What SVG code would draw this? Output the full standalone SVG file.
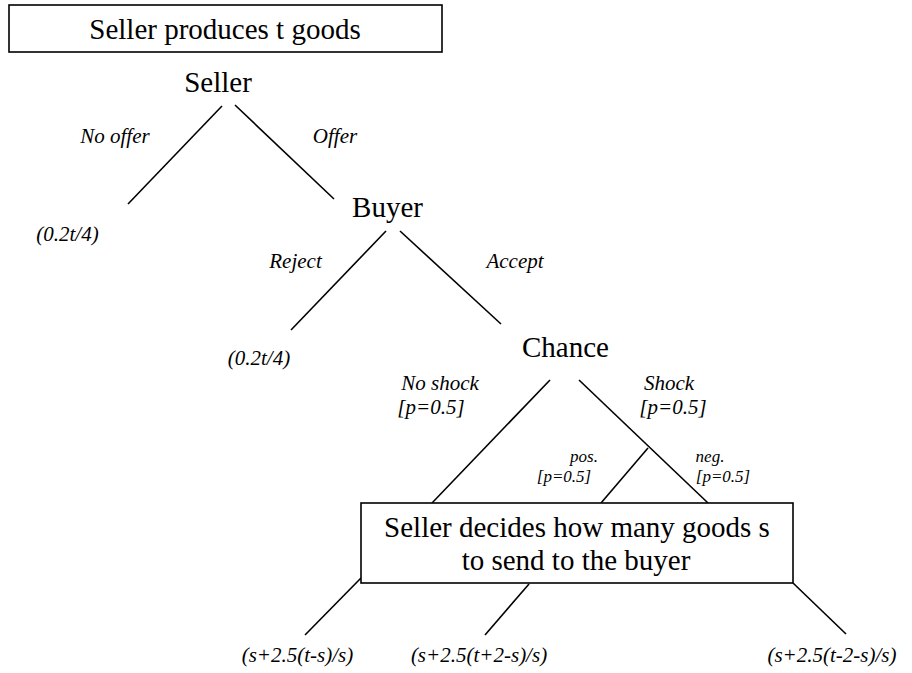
<svg xmlns="http://www.w3.org/2000/svg" width="912" height="673" viewBox="0 0 912 673" font-family="Liberation Serif">
<style>
.box{fill:#fff;stroke:#000;stroke-width:1.6}
.big{font-size:29px}
.lab{font-size:21px;font-style:italic}
.sm{font-size:17px;font-style:italic}
.edge{stroke:#000;stroke-width:1.6;fill:none}
</style>
<rect x="0" y="0" width="912" height="673" fill="#fff"/>
<g id="connectors">
<line class="edge" x1="222" y1="106" x2="128" y2="204"/>
<line class="edge" x1="235" y1="105" x2="334" y2="199"/>
<line class="edge" x1="386" y1="231" x2="291" y2="330"/>
<line class="edge" x1="400" y1="231" x2="501" y2="324"/>
<line class="edge" x1="550" y1="380" x2="432" y2="503"/>
<line class="edge" x1="579" y1="380" x2="708" y2="503"/>
<line class="edge" x1="648" y1="448" x2="601" y2="503"/>
<line class="edge" x1="361" y1="578" x2="305" y2="635"/>
<line class="edge" x1="529" y1="584" x2="485" y2="635"/>
<line class="edge" x1="793" y1="583" x2="846" y2="634"/>
<text class="lab" font-family="Liberation Serif" text-anchor="middle" x="115" y="143">No offer</text>
<text class="lab" font-family="Liberation Serif" text-anchor="middle" x="335" y="143">Offer</text>
<text class="lab" font-family="Liberation Serif" text-anchor="middle" x="295.5" y="268">Reject</text>
<text class="lab" font-family="Liberation Serif" text-anchor="middle" x="515" y="268">Accept</text>
<text class="lab" font-family="Liberation Serif" text-anchor="middle" x="440" y="390">No shock</text>
<text class="lab" font-family="Liberation Serif" text-anchor="middle" x="431" y="414">[p=0.5]</text>
<text class="lab" font-family="Liberation Serif" text-anchor="middle" x="669" y="390">Shock</text>
<text class="lab" font-family="Liberation Serif" text-anchor="middle" x="673" y="414">[p=0.5]</text>
<text class="sm" font-family="Liberation Serif" text-anchor="middle" x="584" y="462">pos.</text>
<text class="sm" font-family="Liberation Serif" text-anchor="middle" x="564" y="482">[p=0.5]</text>
<text class="sm" font-family="Liberation Serif" text-anchor="middle" x="710" y="462">neg.</text>
<text class="sm" font-family="Liberation Serif" text-anchor="middle" x="723" y="482">[p=0.5]</text>
</g>
<g id="title">
<rect class="box" x="9" y="5" width="433" height="47"/>
<text class="big" font-family="Liberation Serif" text-anchor="middle" x="225" y="39">Seller produces t goods</text>
</g>
<g id="seller">
<text class="big" font-family="Liberation Serif" text-anchor="middle" x="218" y="92">Seller</text>
</g>
<g id="payoff-nooffer">
<text class="lab" font-family="Liberation Serif" text-anchor="middle" x="67.5" y="241">(0.2t/4)</text>
</g>
<g id="buyer">
<text class="big" font-family="Liberation Serif" text-anchor="middle" x="387.5" y="217">Buyer</text>
</g>
<g id="payoff-reject">
<text class="lab" font-family="Liberation Serif" text-anchor="middle" x="259" y="365">(0.2t/4)</text>
</g>
<g id="chance">
<text class="big" font-family="Liberation Serif" text-anchor="middle" x="565.5" y="357">Chance</text>
</g>
<g id="decision">
<rect class="box" x="361" y="503" width="432" height="80"/>
<text class="big" font-family="Liberation Serif" text-anchor="middle" x="577" y="537">Seller decides how many goods s</text>
<text class="big" font-family="Liberation Serif" text-anchor="middle" x="576" y="570">to send to the buyer</text>
</g>
<g id="payoff-1">
<text class="lab" font-family="Liberation Serif" text-anchor="middle" x="297.5" y="662">(s+2.5(t-s)/s)</text>
</g>
<g id="payoff-2">
<text class="lab" font-family="Liberation Serif" text-anchor="middle" x="479" y="662">(s+2.5(t+2-s)/s)</text>
</g>
<g id="payoff-3">
<text class="lab" font-family="Liberation Serif" text-anchor="middle" x="832" y="662">(s+2.5(t-2-s)/s)</text>
</g>
</svg>
